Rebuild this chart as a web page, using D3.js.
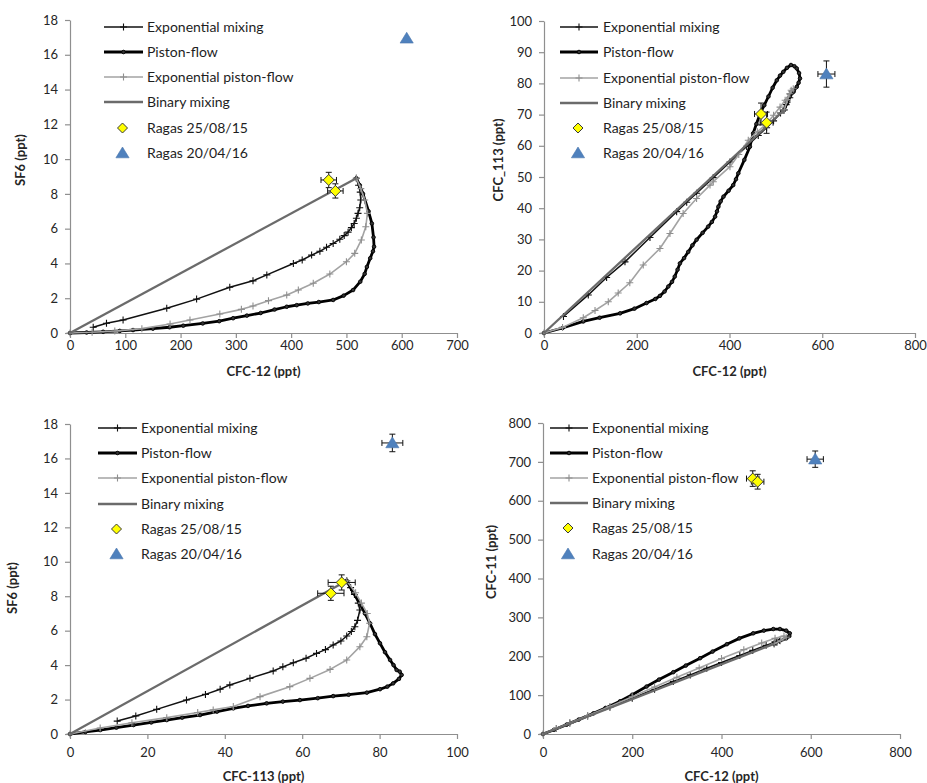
<!DOCTYPE html>
<html><head><meta charset="utf-8">
<script src="https://cdn.jsdelivr.net/npm/d3@7"></script>
<style>body{margin:0;background:#fff}svg{display:block;font-family:Lato,'Open Sans',sans-serif}</style>
</head><body><svg id="c" width="927" height="783"></svg>
<script>
// ---------- DATA ----------
const seriesNames = ["Exponential mixing","Piston-flow","Exponential piston-flow","Binary mixing","Ragas 25/08/15","Ragas 20/04/16"];

// Panel 1: CFC-12 (x) vs SF6 (y)
const p1ExpMix = [[42,0.33],[66,0.56],[96,0.75],[175,1.42],[229,1.95],[289,2.63],[331,3.0],[356,3.34],[404,4.0],[420,4.2],[437,4.48],[452,4.7],[464,4.93],[476,5.15],[488,5.39],[496,5.6],[503,5.8],[509,6.06],[514,6.3],[518,6.6],[521,6.88],[524,7.2],[526,7.65],[525,8.1],[522,8.5],[518,8.9]];
const p1Piston = [[0,0],[30,0.03],[60,0.07],[90,0.12],[114,0.17],[150,0.25],[180,0.33],[205,0.42],[240,0.55],[270,0.68],[295,0.85],[320,1.0],[345,1.15],[370,1.35],[392,1.51],[410,1.6],[430,1.7],[450,1.78],[476,1.9],[495,2.15],[512,2.47],[525,2.95],[533,3.4],[537,3.8],[543,4.3],[548,4.7],[550,4.96],[549,5.5],[546,6.3],[540,7.0],[530,8.0],[524,8.5],[518,8.9]];
const p1ExpPF = [[0,0],[40,0.04],[81,0.11],[130,0.25],[181,0.52],[217,0.75],[271,1.09],[310,1.36],[331,1.55],[359,1.86],[392,2.18],[413,2.47],[440,2.86],[470,3.39],[500,4.1],[515,4.58],[527,5.35],[535,6.11],[538,6.88],[533,7.65],[526,8.3],[518,8.9]];
const p1Binary = [[0,0],[518,8.9]];
const p1R15x = [468,480], p1R15y = [8.8,8.17], p1R15ex = [14,14], p1R15ey = [0.44,0.41];
const p1R16x = [609], p1R16y = [16.95];

// Panel 2: CFC-12 (x) vs CFC-113 (y)
const p2ExpMix = [[42,5.3],[95.5,12.2],[135,17.8],[174.6,22.8],[228.5,30.6],[286,38.9],[307.7,41.9],[329,44.8],[365,49.8],[401,54.8],[437,59.8],[462,63.3],[480,65.8],[495,68],[510,70.5],[522,73.2],[530,75.4],[535,77.3],[531,76.6],[524,74],[518,71.5]];
const p2Piston = [[0,0],[40,1.6],[84.7,3.7],[120,4.9],[164,6.3],[195,7.8],[221,9.6],[240,10.9],[250,11.9],[260,13.3],[268,14.9],[276,16.4],[282,18.1],[288,20.3],[293,22.3],[302,24.0],[311,26],[320,28.1],[329,29.9],[342,32.1],[354,34.1],[362,35.6],[369,37.3],[373,39],[376,40.5],[381,42.2],[387,43.7],[398,45.6],[408,47.4],[414,49.3],[419,51.2],[432,55.5],[444,59.7],[451,64],[458,67],[466,70.3],[475,73],[484,75.8],[493,78.6],[502,81],[509,82.5],[516,83.7],[524,85],[532.6,85.9],[540,85.5],[545,84.8],[550,83.3],[552,81.6],[549,80.2],[545,78.9],[538,77.3],[530,75.8],[524,73.7],[518,71.5]];
const p2ExpPF = [[0,0],[40,1.8],[84.7,4.9],[110,7.2],[138.6,10],[160,12.8],[185,16.1],[214,21.8],[250,27.1],[271.6,31.9],[300,38.3],[329,43.1],[358,47.4],[365,48.5],[401,53.3],[420,57.2],[440.5,61.8],[460,64.5],[480,67],[495,69.8],[509,72.4],[520,74.6],[530,76.7],[537.5,78.3],[533,77.8],[525,74.8],[518,71.5]];
const p2Binary = [[0,0],[518,71.5]];
const p2R15x = [468,480], p2R15y = [70.2,67.4], p2R15ex = [14,14], p2R15ey = [3.5,3.4];
const p2R16x = [609], p2R16y = [83], p2R16ex = [18.3], p2R16ey = [4.2];

// Panel 3: CFC-113 (x) vs SF6 (y)
const p3ExpMix = [[12.2,0.75],[17,1.05],[22.4,1.43],[30.1,1.97],[35,2.3],[38.8,2.6],[41.3,2.85],[46.5,3.23],[52.5,3.66],[55,3.9],[57.7,4.14],[61,4.4],[63.7,4.68],[66,4.9],[68,5.17],[70,5.4],[71.5,5.69],[72.7,5.95],[73.6,6.23],[74.3,6.6],[74.9,7.2],[74.5,7.6],[73.5,8.1],[72.5,8.5],[71.5,8.9]];
const p3Piston = [[0,0],[4,0.12],[7.8,0.23],[12,0.37],[16.4,0.52],[21,0.67],[25,0.81],[29,0.95],[33.6,1.1],[38,1.3],[42.2,1.49],[46,1.63],[50.8,1.78],[55,1.88],[59.4,1.97],[64,2.08],[68,2.2],[72,2.28],[76.7,2.4],[80.1,2.6],[82,2.75],[83.5,2.94],[85,3.2],[85.7,3.43],[85.2,3.62],[84.4,3.72],[83.6,4.0],[82.7,4.3],[81.4,4.75],[80.1,5.27],[78.8,5.8],[77.5,6.43],[76.2,7.0],[74.9,7.59],[73.2,8.2],[71.5,8.9]];
const p3ExpPF = [[0,0],[7.8,0.35],[16,0.65],[25,0.95],[33,1.25],[37,1.4],[42.2,1.6],[49.1,2.17],[56.8,2.75],[62,3.23],[67.2,3.75],[71.5,4.3],[74.9,5.07],[76.7,5.65],[77.4,6.43],[76.8,7.0],[75.3,7.6],[73.8,8.2],[71.5,8.9]];
const p3Binary = [[0,0],[71.5,8.9]];
const p3R15x = [70.2,67.4], p3R15y = [8.8,8.17], p3R15ex = [3.5,3.4], p3R15ey = [0.44,0.41];
const p3R16x = [83.3], p3R16y = [16.9], p3R16ex = [2.7], p3R16ey = [0.51];

// Panel 4: CFC-12 (x) vs CFC-11 (y)
const p4ExpMix = [[30,14],[60,28],[100,46],[150,69],[200,92],[250,115],[292,135],[330,152],[367,169],[400,184],[441,202],[470,215],[500,228],[520,237],[530,241],[524,236],[518,232]];
const p4Piston = [[0,0],[25,11],[53,24],[80,37],[113,53],[140,67],[172.5,84],[200,101],[232,122],[260,140],[292,159],[320,176],[352,195],[380,212],[412,231],[440,246],[471,259],[495,266],[516,270],[531,270],[545,266],[553,259],[552,252],[545,246],[530,239],[518,232]];
const p4ExpPF = [[0,0],[30,14],[60,28],[100,47],[150,71],[200,96],[250,121],[300,146],[350,170],[400,194],[450,217],[490,234],[520,246],[540,252],[545,249],[532,240],[518,232]];
const p4Binary = [[0,0],[518,232]];
const p4R15x = [470,481], p4R15y = [657,649], p4R15ex = [14,14], p4R15ey = [20,19];
const p4R16x = [610], p4R16y = [707], p4R16ex = [18.3], p4R16ey = [21];

// Axis ticks and titles
const p1XTicks = [0,100,200,300,400,500,600,700], p1YTicks = [0,2,4,6,8,10,12,14,16,18];
const p2XTicks = [0,200,400,600,800], p2YTicks = [0,10,20,30,40,50,60,70,80,90,100];
const p3XTicks = [0,20,40,60,80,100], p3YTicks = [0,2,4,6,8,10,12,14,16,18];
const p4XTicks = [0,200,400,600,800], p4YTicks = [0,100,200,300,400,500,600,700,800];
const p1Titles = ["CFC-12 (ppt)","SF6 (ppt)"];
const p2Titles = ["CFC-12 (ppt)","CFC_113 (ppt)"];
const p3Titles = ["CFC-113 (ppt)","SF6 (ppt)"];
const p4Titles = ["CFC-12 (ppt)","CFC-11 (ppt)"];

// ---------- DRAW ----------
const svg = d3.select("#c");
svg.append("rect").attr("width",927).attr("height",783).attr("fill","#fff");

const AX = "#8f8f8f";
const FONT = "Lato, 'Open Sans', sans-serif";
const styles = {
  expMix:{stroke:"#111", w:1.5, marker:"plus", mcol:"#111"},
  piston:{stroke:"#000", w:2.8, marker:"dot", mcol:"#000"},
  expPF:{stroke:"#a3a3a3", w:1.6, marker:"plus", mcol:"#8f8f8f"},
  binary:{stroke:"#6b6b6b", w:2.3, marker:null}
};

function drawMarker(g, type, cx, cy, col){
  if(type==="plus"){
    g.append("path").attr("d",`M${cx-3.5},${cy}H${cx+3.5}M${cx},${cy-3.5}V${cy+3.5}`).attr("stroke",col).attr("stroke-width",1.1).attr("fill","none");
  } else if(type==="dot"){
    g.append("circle").attr("cx",cx).attr("cy",cy).attr("r",1.8).attr("fill","#333").attr("stroke",col).attr("stroke-width",0.9);
  }
}
function diamond(g,cx,cy,s){
  g.append("path").attr("d",`M${cx},${cy-s}L${cx+s},${cy}L${cx},${cy+s}L${cx-s},${cy}Z`).attr("fill","#ffff00").attr("stroke","#3a3a3a").attr("stroke-width",1);
}
function triangle(g,cx,cy,s){
  g.append("path").attr("d",`M${cx},${cy-s}L${cx+s*1.1},${cy+s*0.8}L${cx-s*1.1},${cy+s*0.8}Z`).attr("fill","#4f81bd").attr("stroke","#4a76ad").attr("stroke-width",0.6);
}

function panel(c){
  const g = svg.append("g");
  const x = d3.scaleLinear().domain([c.xTicks[0], c.xTicks[c.xTicks.length-1]]).range([c.left,c.right]);
  const y = d3.scaleLinear().domain([c.yTicks[0], c.yTicks[c.yTicks.length-1]]).range([c.bottom,c.top]);

  const xa = g.append("g").attr("transform",`translate(0,${c.bottom})`)
    .call(d3.axisBottom(x).tickValues(c.xTicks).tickSize(5).tickSizeOuter(0).tickPadding(c.xPad).tickFormat(d3.format("d")));
  const ya = g.append("g").attr("transform",`translate(${c.left},0)`)
    .call(d3.axisLeft(y).tickValues(c.yTicks).tickSize(5).tickSizeOuter(0).tickPadding(7).tickFormat(d3.format("d")));
  [xa,ya].forEach(a=>{
    a.select(".domain").attr("stroke",AX).attr("stroke-width",1.2);
    a.selectAll(".tick line").attr("stroke",AX).attr("stroke-width",1.2);
    a.selectAll(".tick text").attr("fill","#262626").attr("font-size",13).attr("font-family",FONT);
  });

  g.append("text").attr("x",(c.left+c.right)/2).attr("y",c.xTitleY).attr("text-anchor","middle")
    .attr("font-size",13).attr("font-weight","bold").attr("fill","#262626").text(c.titles[0]);
  g.append("text").attr("transform",`translate(${c.yTitleX},${c.yTitleY}) rotate(-90)`).attr("text-anchor","middle")
    .attr("font-size",13).attr("font-weight","bold").attr("fill","#262626").text(c.titles[1]);

  const line = d3.line().x(d=>x(d[0])).y(d=>y(d[1]));
  const curves = [["expMix",c.expMix],["piston",c.piston],["expPF",c.expPF],["binary",c.binary]];
  curves.forEach(([k,data])=>{
    const s = styles[k];
    g.append("path").datum(data).attr("d",line).attr("fill","none").attr("stroke",s.stroke)
      .attr("stroke-width",s.w).attr("stroke-linejoin","round");
    if(s.marker){ data.forEach(d=>drawMarker(g,s.marker,x(d[0]),y(d[1]),s.mcol)); }
  });

  function errBars(px,py,ex,ey){
    if(!ex) return;
    px.forEach((v,i)=>{
      const cx=x(v), cy=y(py[i]);
      const x0=x(v-ex[i]), x1=x(v+ex[i]), y0=y(py[i]-ey[i]), y1=y(py[i]+ey[i]);
      g.append("path").attr("d",`M${x0},${cy}H${x1}M${x0},${cy-3}V${cy+3}M${x1},${cy-3}V${cy+3}M${cx},${y0}V${y1}M${cx-3},${y0}H${cx+3}M${cx-3},${y1}H${cx+3}`)
        .attr("stroke","#111").attr("stroke-width",1).attr("fill","none");
    });
  }
  errBars(c.r15x,c.r15y,c.r15ex,c.r15ey);
  c.r15x.forEach((v,i)=>diamond(g,x(v),y(c.r15y[i]),5.5));
  errBars(c.r16x,c.r16y,c.r16ex,c.r16ey);
  c.r16x.forEach((v,i)=>triangle(g,x(v),y(c.r16y[i]),6));

  // legend
  const L = c.legend;
  const keys = ["expMix","piston","expPF","binary"];
  seriesNames.forEach((name,i)=>{
    const ry = L.rows[i];
    if(i<4){
      const s = styles[keys[i]];
      g.append("line").attr("x1",L.x1).attr("x2",L.x2).attr("y1",ry).attr("y2",ry).attr("stroke",s.stroke).attr("stroke-width",s.w);
      if(s.marker) drawMarker(g,s.marker,(L.x1+L.x2)/2,ry,s.mcol);
    } else if(i===4){ diamond(g,(L.x1+L.x2)/2-1,ry,5); }
    else { triangle(g,(L.x1+L.x2)/2-1,ry,6); }
    g.append("text").attr("x",L.tx).attr("y",ry).attr("dy","0.35em").attr("font-size",14).attr("fill","#1e1e1e").text(name);
  });
}

panel({left:70,right:457,bottom:333,top:20,xTicks:p1XTicks,yTicks:p1YTicks,titles:p1Titles,xPad:3,xTitleY:376,yTitleX:25,yTitleY:160,
  expMix:p1ExpMix,piston:p1Piston,expPF:p1ExpPF,binary:p1Binary,
  r15x:p1R15x,r15y:p1R15y,r15ex:p1R15ex,r15ey:p1R15ey,r16x:p1R16x,r16y:p1R16y,r16ex:null,r16ey:null,
  legend:{x1:104,x2:143,tx:147,rows:[27,52,77,102,128,153]}});
panel({left:544,right:915,bottom:333,top:21,xTicks:p2XTicks,yTicks:p2YTicks,titles:p2Titles,xPad:3,xTitleY:376,yTitleX:503,yTitleY:160,
  expMix:p2ExpMix,piston:p2Piston,expPF:p2ExpPF,binary:p2Binary,
  r15x:p2R15x,r15y:p2R15y,r15ex:p2R15ex,r15ey:p2R15ey,r16x:p2R16x,r16y:p2R16y,r16ex:p2R16ex,r16ey:p2R16ey,
  legend:{x1:560,x2:598,tx:603,rows:[27,52,78,103,128,153]}});
panel({left:70,right:457,bottom:734,top:424,xTicks:p3XTicks,yTicks:p3YTicks,titles:p3Titles,xPad:9,xTitleY:781,yTitleX:17,yTitleY:588,
  expMix:p3ExpMix,piston:p3Piston,expPF:p3ExpPF,binary:p3Binary,
  r15x:p3R15x,r15y:p3R15y,r15ex:p3R15ex,r15ey:p3R15ey,r16x:p3R16x,r16y:p3R16y,r16ex:p3R16ex,r16ey:p3R16ey,
  legend:{x1:98,x2:137,tx:141,rows:[428,453,478,504,529,554]}});
panel({left:543,right:900,bottom:734,top:423,xTicks:p4XTicks,yTicks:p4YTicks,titles:p4Titles,xPad:9,xTitleY:781,yTitleX:496,yTitleY:562,
  expMix:p4ExpMix,piston:p4Piston,expPF:p4ExpPF,binary:p4Binary,
  r15x:p4R15x,r15y:p4R15y,r15ex:p4R15ex,r15ey:p4R15ey,r16x:p4R16x,r16y:p4R16y,r16ex:p4R16ex,r16ey:p4R16ey,
  legend:{x1:550,x2:588,tx:592,rows:[428,453,478,503,528,554]}});
</script></body></html>
